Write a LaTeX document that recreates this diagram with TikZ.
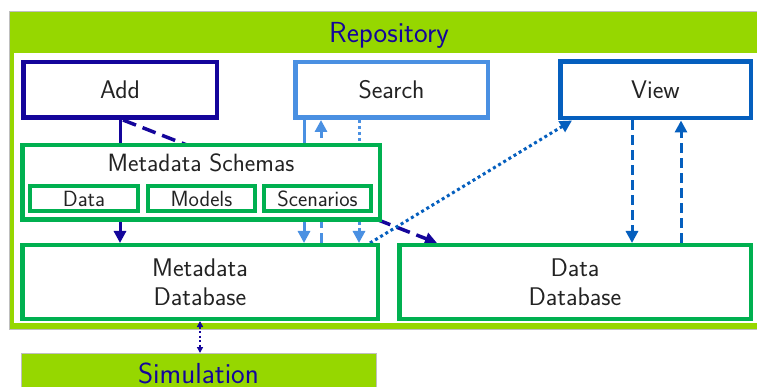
\documentclass[tikz,border=0pt]{standalone}
\usetikzlibrary{arrows.meta,calc}
\definecolor{lime}{RGB}{150,215,0}
\definecolor{boxgreen}{RGB}{0,176,80}
\definecolor{navy}{RGB}{20,5,155}
\definecolor{sky}{RGB}{74,144,226}
\definecolor{viewblue}{RGB}{5,95,190}
\definecolor{txt}{RGB}{35,35,35}
\pgfdeclarelayer{back}
\pgfdeclarelayer{mid}
\pgfsetlayers{back,mid,main}
\tikzset{
  box/.style={draw, fill=white, line width=4.5pt, inner sep=0pt, text=txt, align=center,
    font=\sffamily\fontsize{25.5}{29}\selectfont},
  subbox/.style={box, line width=4pt, font=\sffamily\fontsize{22}{24}\selectfont},
  limebox/.style={fill=lime, draw=black!25, line width=0.6pt},
  title/.style={text=navy, font=\sffamily\fontsize{29}{34}\selectfont, inner sep=0pt},
  arr/.style={line width=3pt, -{Triangle[length=12pt,width=12pt]}},
  dsh/.style={dash pattern=on 10pt off 5pt},
  ldsh/.style={dash pattern=on 14pt off 7pt},
  dotd/.style={dash pattern=on 3pt off 3pt},
}
\begin{document}
\begin{tikzpicture}[x=1pt,y=-1pt]
\useasboundingbox (0,0) rectangle (757,387);
\clip (0,0) rectangle (757,387);

% repository frame
\begin{pgfonlayer}{back}
  \path[limebox] (9,11) rectangle (775,329);
  \fill[white] (14,53) rectangle (770,323);
\end{pgfonlayer}
\node[title, anchor=base] (repotitle) at (389,43) {Repository};

% boxes
\node[box, draw=navy, minimum width=193.5pt, minimum height=55.5pt] (add) at (120,90) {Add};
\node[box, draw=sky, minimum width=192.5pt, minimum height=55.5pt] (search) at (391.5,90) {Search};
\node[box, draw=viewblue, minimum width=190.5pt, minimum height=56.5pt] (view) at (655.5,90) {View};

\node[box, draw=boxgreen, minimum width=357.5pt, minimum height=74.5pt] (schemas) at (201,182.5) {};
\node[text=txt, font=\sffamily\fontsize{25}{29}\selectfont, inner sep=0pt] (schtitle) at (201,163) {Metadata Schemas};
\node[subbox, draw=boxgreen, minimum width=108pt, minimum height=25pt] (sdata) at (84,198.5) {Data};
\node[subbox, draw=boxgreen, minimum width=107pt, minimum height=25pt] (smodels) at (201.5,198.5) {Models};
\node[subbox, draw=boxgreen, minimum width=107pt, minimum height=25pt] (sscen) at (317.5,198.5) {Scenarios};

\node[box, draw=boxgreen, minimum width=355.5pt, minimum height=73.5pt] (mdb) at (200,282) {Metadata\\Database};
\node[box, draw=boxgreen, minimum width=351.5pt, minimum height=73.5pt] (ddb) at (575,282) {Data\\Database};

% simulation
\node[limebox, anchor=north west, minimum width=355pt, minimum height=50pt, inner sep=0pt] (sim) at (21,353) {};
\node[title] (simtext) at (198.5,373) {Simulation};

% helper coordinates
\coordinate (s1) at ($(search.south west)+(11,0)$);
\coordinate (s2) at ($(search.south west)+(28,0)$);
\coordinate (s3) at ($(search.south west)+(66,0)$);
\coordinate (v1) at ($(view.south west)+(74,0)$);
\coordinate (v2) at ($(view.south west)+(123,0)$);
\coordinate (a1) at ($(add.south)+(3,0)$);
\coordinate (d1) at ($(ddb.north west)+(40,0)$);
\coordinate (m1) at ($(mdb.north east)+(-10,0)$);
\coordinate (w1) at ($(view.south west)+(14,0)$);

% connectors
\begin{pgfonlayer}{mid}
  \draw[arr, navy] (add.south) -- (add.south |- mdb.north);
  \draw[arr, navy, ldsh, line width=3.5pt] (a1) -- (d1);
  \draw[arr, sky] (s1) -- (s1 |- mdb.north);
  \draw[arr, sky, dsh] (s2 |- mdb.north) -- (s2);
  \draw[arr, sky, dotd] (s3) -- (s3 |- mdb.north);
  \draw[arr, viewblue, dotd] (m1) -- (w1);
  \draw[arr, viewblue, dsh] (v1) -- (v1 |- ddb.north);
  \draw[arr, viewblue, dsh] (v2 |- ddb.north) -- (v2);
  \draw[navy, line width=2pt, dash pattern=on 2pt off 2.5pt,
        {Triangle[length=6pt,width=6pt]}-{Triangle[length=6pt,width=6pt]}]
        (mdb.south) -- (mdb.south |- sim.north);
\end{pgfonlayer}
\end{tikzpicture}
\end{document}
